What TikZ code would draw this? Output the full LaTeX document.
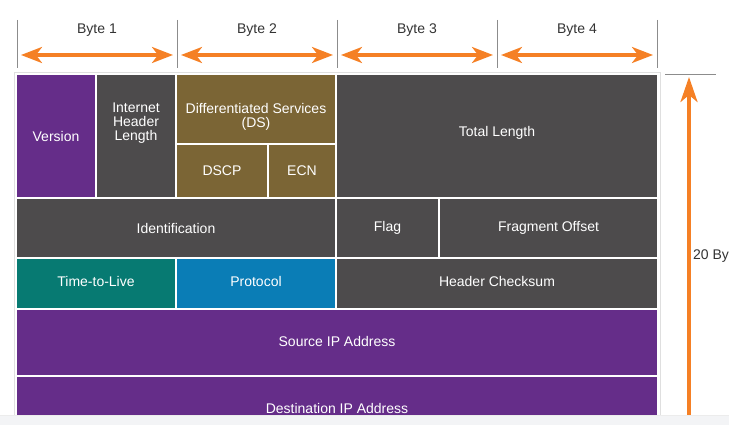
\documentclass[tikz,border=0pt]{standalone}
\usepackage{fontspec}
\setmainfont{Liberation Sans}
\usepackage{xcolor}
\usetikzlibrary{shapes,arrows.meta,positioning,calc}

\definecolor{hdrpurple}{HTML}{652D89}
\definecolor{hdrgrey}{HTML}{4D4B4C}
\definecolor{hdrbrown}{HTML}{7B6535}
\definecolor{hdrteal}{HTML}{077A72}
\definecolor{hdrblue}{HTML}{0A7DB6}
\definecolor{hdrorange}{HTML}{F58025}
\definecolor{tickgrey}{HTML}{8C8C8C}
\definecolor{bandgrey}{HTML}{F3F4F6}
\definecolor{labelgrey}{HTML}{333333}

\begin{document}
\begin{tikzpicture}[
    x=1pt, y=-1pt,
    font=\fontsize{14}{14}\selectfont,
    field/.style={rectangle, inner sep=0pt, outer sep=0pt, text=white, align=center, anchor=north west},
    fieldtext/.style={inner sep=0pt, text=white, align=center},
    bytelabel/.style={text=labelgrey},
    tickline/.style={tickgrey, line width=0.9pt},
    bytearrow/.style={hdrorange, line width=3.3pt, {Stealth[length=21pt,width=16pt,inset=6pt]}-{Stealth[length=21pt,width=16pt,inset=6pt]}, shorten <=4pt, shorten >=4pt},
    sizearrow/.style={hdrorange, line width=3.8pt, -{Stealth[length=25pt,width=17pt,inset=7pt]}},
]
    \useasboundingbox (0,0) rectangle (729,425);

    % Panel behind the header fields
    \draw[gray!25, fill=white] (14,72) rectangle (660,425);

    % Byte scale
    \foreach \i in {0,...,4} {
        \draw[tickline] (17+160*\i,20) -- (17+160*\i,68);
        \coordinate (b\i) at (17+160*\i,55);
    }
    \foreach \i/\j in {0/1,1/2,2/3,3/4} {
        \draw[bytearrow] (b\i) -- (b\j);
        \node[bytelabel] (byte\j) at ($(b\i)!0.5!(b\j)+(0,-25)$) {Byte \j};
    }

    % Row 1
    \node[field, fill=hdrpurple, minimum width=78pt, minimum height=122pt] (version) at (17,75) {Version};
    \node[field, fill=hdrgrey, minimum width=78pt, minimum height=122pt] (ihl) at (97,75) {};
    \node[fieldtext, below=28pt of ihl.north] (ihl_text) {Internet\\Header\\Length};
    \node[field, fill=hdrbrown, minimum width=158pt, minimum height=68pt] (ds) at (177,75) {};
    \node[fieldtext, below=28pt of ds.north] (ds_text) {Differentiated Services\\(DS)};
    \node[field, fill=hdrbrown, minimum width=90pt, minimum height=52pt] (dscp) at (177,145) {DSCP};
    \node[field, fill=hdrbrown, minimum width=66pt, minimum height=52pt] (ecn) at (269,145) {ECN};
    \node[field, fill=hdrgrey, minimum width=320pt, minimum height=122pt, text depth=10pt] (total_len) at (337,75) {Total Length};

    % Row 2
    \node[field, fill=hdrgrey, minimum width=318pt, minimum height=58pt] (ident) at (17,199) {Identification};
    \node[field, fill=hdrgrey, minimum width=101pt, minimum height=58pt] (flag) at (337,199) {Flag};
    \node[field, fill=hdrgrey, minimum width=217pt, minimum height=58pt] (frag_off) at (440,199) {Fragment Offset};

    % Row 3
    \node[field, fill=hdrteal, minimum width=158pt, minimum height=49pt, text depth=5pt] (ttl) at (17,259) {Time-to-Live};
    \node[field, fill=hdrblue, minimum width=158pt, minimum height=49pt, text depth=5pt] (protocol) at (177,259) {Protocol};
    \node[field, fill=hdrgrey, minimum width=320pt, minimum height=49pt, text depth=5pt] (checksum) at (337,259) {Header Checksum};

    % Addresses
    \node[field, fill=hdrpurple, minimum width=640pt, minimum height=65pt, text depth=3pt] (src_ip) at (17,310) {Source IP Address};
    \node[field, fill=hdrpurple, minimum width=640pt, minimum height=65pt, text depth=2pt] (dst_ip) at (17,377) {Destination IP Address};

    % Header size
    \coordinate (size_rule_l) at (665,74.5);
    \coordinate (size_rule_r) at (716,74.5);
    \draw[tickline] (size_rule_l) -- (size_rule_r);
    \coordinate (size_bot) at (689,425);
    \coordinate (size_top) at (689,77);
    \draw[sizearrow] (size_bot) -- (size_top);
    \node[bytelabel, anchor=west, inner sep=0pt] (size_label) at (693,256) {20 By};

    % Bottom band
    \fill[bandgrey] (0,415) rectangle (729,425);
    \draw[gray!15] (0,415) -- (729,415);

\end{tikzpicture}
\end{document}
